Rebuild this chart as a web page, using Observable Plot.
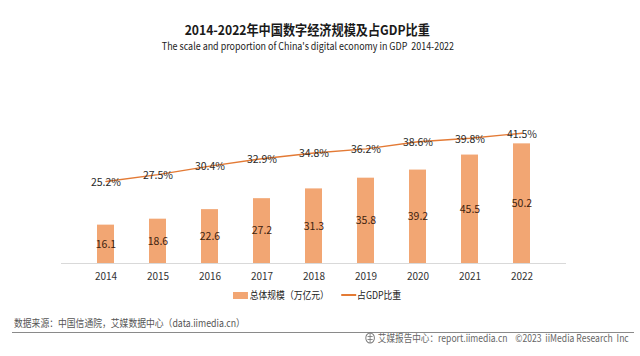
<!DOCTYPE html>
<html>
<head>
<meta charset="utf-8">
<script src="https://cdn.jsdelivr.net/npm/d3@7"></script>
<script src="https://cdn.jsdelivr.net/npm/@observablehq/plot@0.6"></script>
<style>
  html, body { margin: 0; padding: 0; background: #fff; }
  #wrap { position: relative; width: 640px; height: 356px; overflow: hidden; font-family: "Noto Sans CJK SC", "Noto Sans", sans-serif; }
  #chart { position: absolute; left: 0; top: 0; }
  .abs { position: absolute; white-space: nowrap; }
  #title { left: 0; width: 615px; top: 20px; text-align: center; font-size: 13.5px; font-weight: bold; color: #1a1a1a; line-height: 18px; }
  #title span { display: inline-block; transform: scaleX(0.9); }
  #subtitle { left: 0; width: 615px; top: 39px; text-align: center; font-size: 10.5px; color: #222; line-height: 14px; }
  #subtitle span { display: inline-block; transform: scaleX(0.85); }
  #legend { top: 288px; left: 233px; font-size: 10px; color: #222; line-height: 14px; display: flex; align-items: center; transform: scaleX(0.88); transform-origin: left center; }
  .sw { display: inline-block; }
  #source { left: 14px; top: 316px; font-size: 10px; color: #555; line-height: 14px; transform: scaleX(0.88); transform-origin: left center; }
  #rule { left: 12px; width: 622px; top: 332px; height: 0; border-top: 1.2px solid #8a8a8a; }
  #footer { right: 11px; top: 331px; font-size: 10px; color: #666; line-height: 14px; display: flex; align-items: center; transform: scaleX(0.86); transform-origin: right center; }
</style>
</head>
<body>
<div id="wrap">
  <div id="chart"></div>
  <div class="abs" id="title"><span>2014-2022年中国数字经济规模及占GDP比重</span></div>
  <div class="abs" id="subtitle"><span>The scale and proportion of China's digital economy in GDP&nbsp;&nbsp;2014-2022</span></div>
  <div class="abs" id="legend"></div>
  <div class="abs" id="source">数据来源：中国信通院，艾媒数据中心（data.iimedia.cn）</div>
  <div class="abs" id="rule"></div>
  <div class="abs" id="footer"></div>
</div>
<script>
// ---- data ----
const years = ["2014","2015","2016","2017","2018","2019","2020","2021","2022"];
const scaleValues = [16.1, 18.6, 22.6, 27.2, 31.3, 35.8, 39.2, 45.5, 50.2]; // 万亿元
const gdpShare = [25.2, 27.5, 30.4, 32.9, 34.8, 36.2, 38.6, 39.8, 41.5];    // %
const seriesNames = ["总体规模（万亿元）", "占GDP比重"];

const barColor = "#f2a673";
const lineColor = "#e37a35";

// secondary (percentage) axis mapped onto the primary axis domain
const yDomain = [0, 60];
const y2 = d3.scaleLinear().domain([-2.5, 45.8]).range(yDomain);

const rows = years.map((y, i) => ({year: y, value: scaleValues[i], share: gdpShare[i], shareY: y2(gdpShare[i])}));

const chart = Plot.plot({
  width: 640,
  height: 356,
  marginLeft: 61,
  marginRight: 74,
  marginTop: 120,
  marginBottom: 93,
  style: {fontFamily: "'Noto Sans CJK SC', 'Noto Sans', sans-serif", fontSize: "10px", background: "transparent"},
  x: {domain: years, padding: 0.68, label: null, tickSize: 0, tickPadding: 9},
  y: {domain: yDomain, axis: null},
  marks: [
    Plot.barY(rows, {x: "year", y: "value", fill: barColor}),
    Plot.ruleY([0], {stroke: "#d9d9d9", strokeWidth: 1.2}),
    Plot.text(rows, {x: "year", y: d => d.value / 2, text: d => d.value.toFixed(1), fill: "#3d220f", fontSize: 10.5}),
    Plot.lineY(rows, {x: "year", y: "shareY", stroke: lineColor, strokeWidth: 1.4}),
    Plot.text(rows, {x: "year", y: "shareY", text: d => d.share.toFixed(1) + "%", fill: "#2a2a2a", fontSize: 10.5, dy: 1})
  ]
});
chart.querySelectorAll("[aria-label='x-axis tick label'] text").forEach(t => t.setAttribute("fill", "#333"));
document.getElementById("chart").appendChild(chart);

// legend
const lg = document.getElementById("legend");
lg.innerHTML =
  `<span class="sw" style="width:17px;height:7px;background:${barColor};margin-right:2px"></span><span>${seriesNames[0]}</span>` +
  `<span class="sw" style="width:17px;height:0;border-top:2px solid ${lineColor};margin-left:14px;margin-right:1px"></span><span>${seriesNames[1]}</span>`;

// footer
document.getElementById("footer").innerHTML =
  `<svg width="12" height="12" viewBox="0 0 12 12" style="margin-right:3px"><circle cx="6" cy="6" r="5" fill="none" stroke="#777" stroke-width="1.1"/><path d="M3 4.5h6M3 7.5h6M6 1.2v9.6" stroke="#777" stroke-width="0.9" fill="none"/></svg>` +
  `<span>艾媒报告中心：report.iimedia.cn&nbsp;&nbsp;&nbsp;&nbsp;©2023&nbsp;&nbsp;iiMedia Research&nbsp;&nbsp;Inc</span>`;
</script>
</body>
</html>
